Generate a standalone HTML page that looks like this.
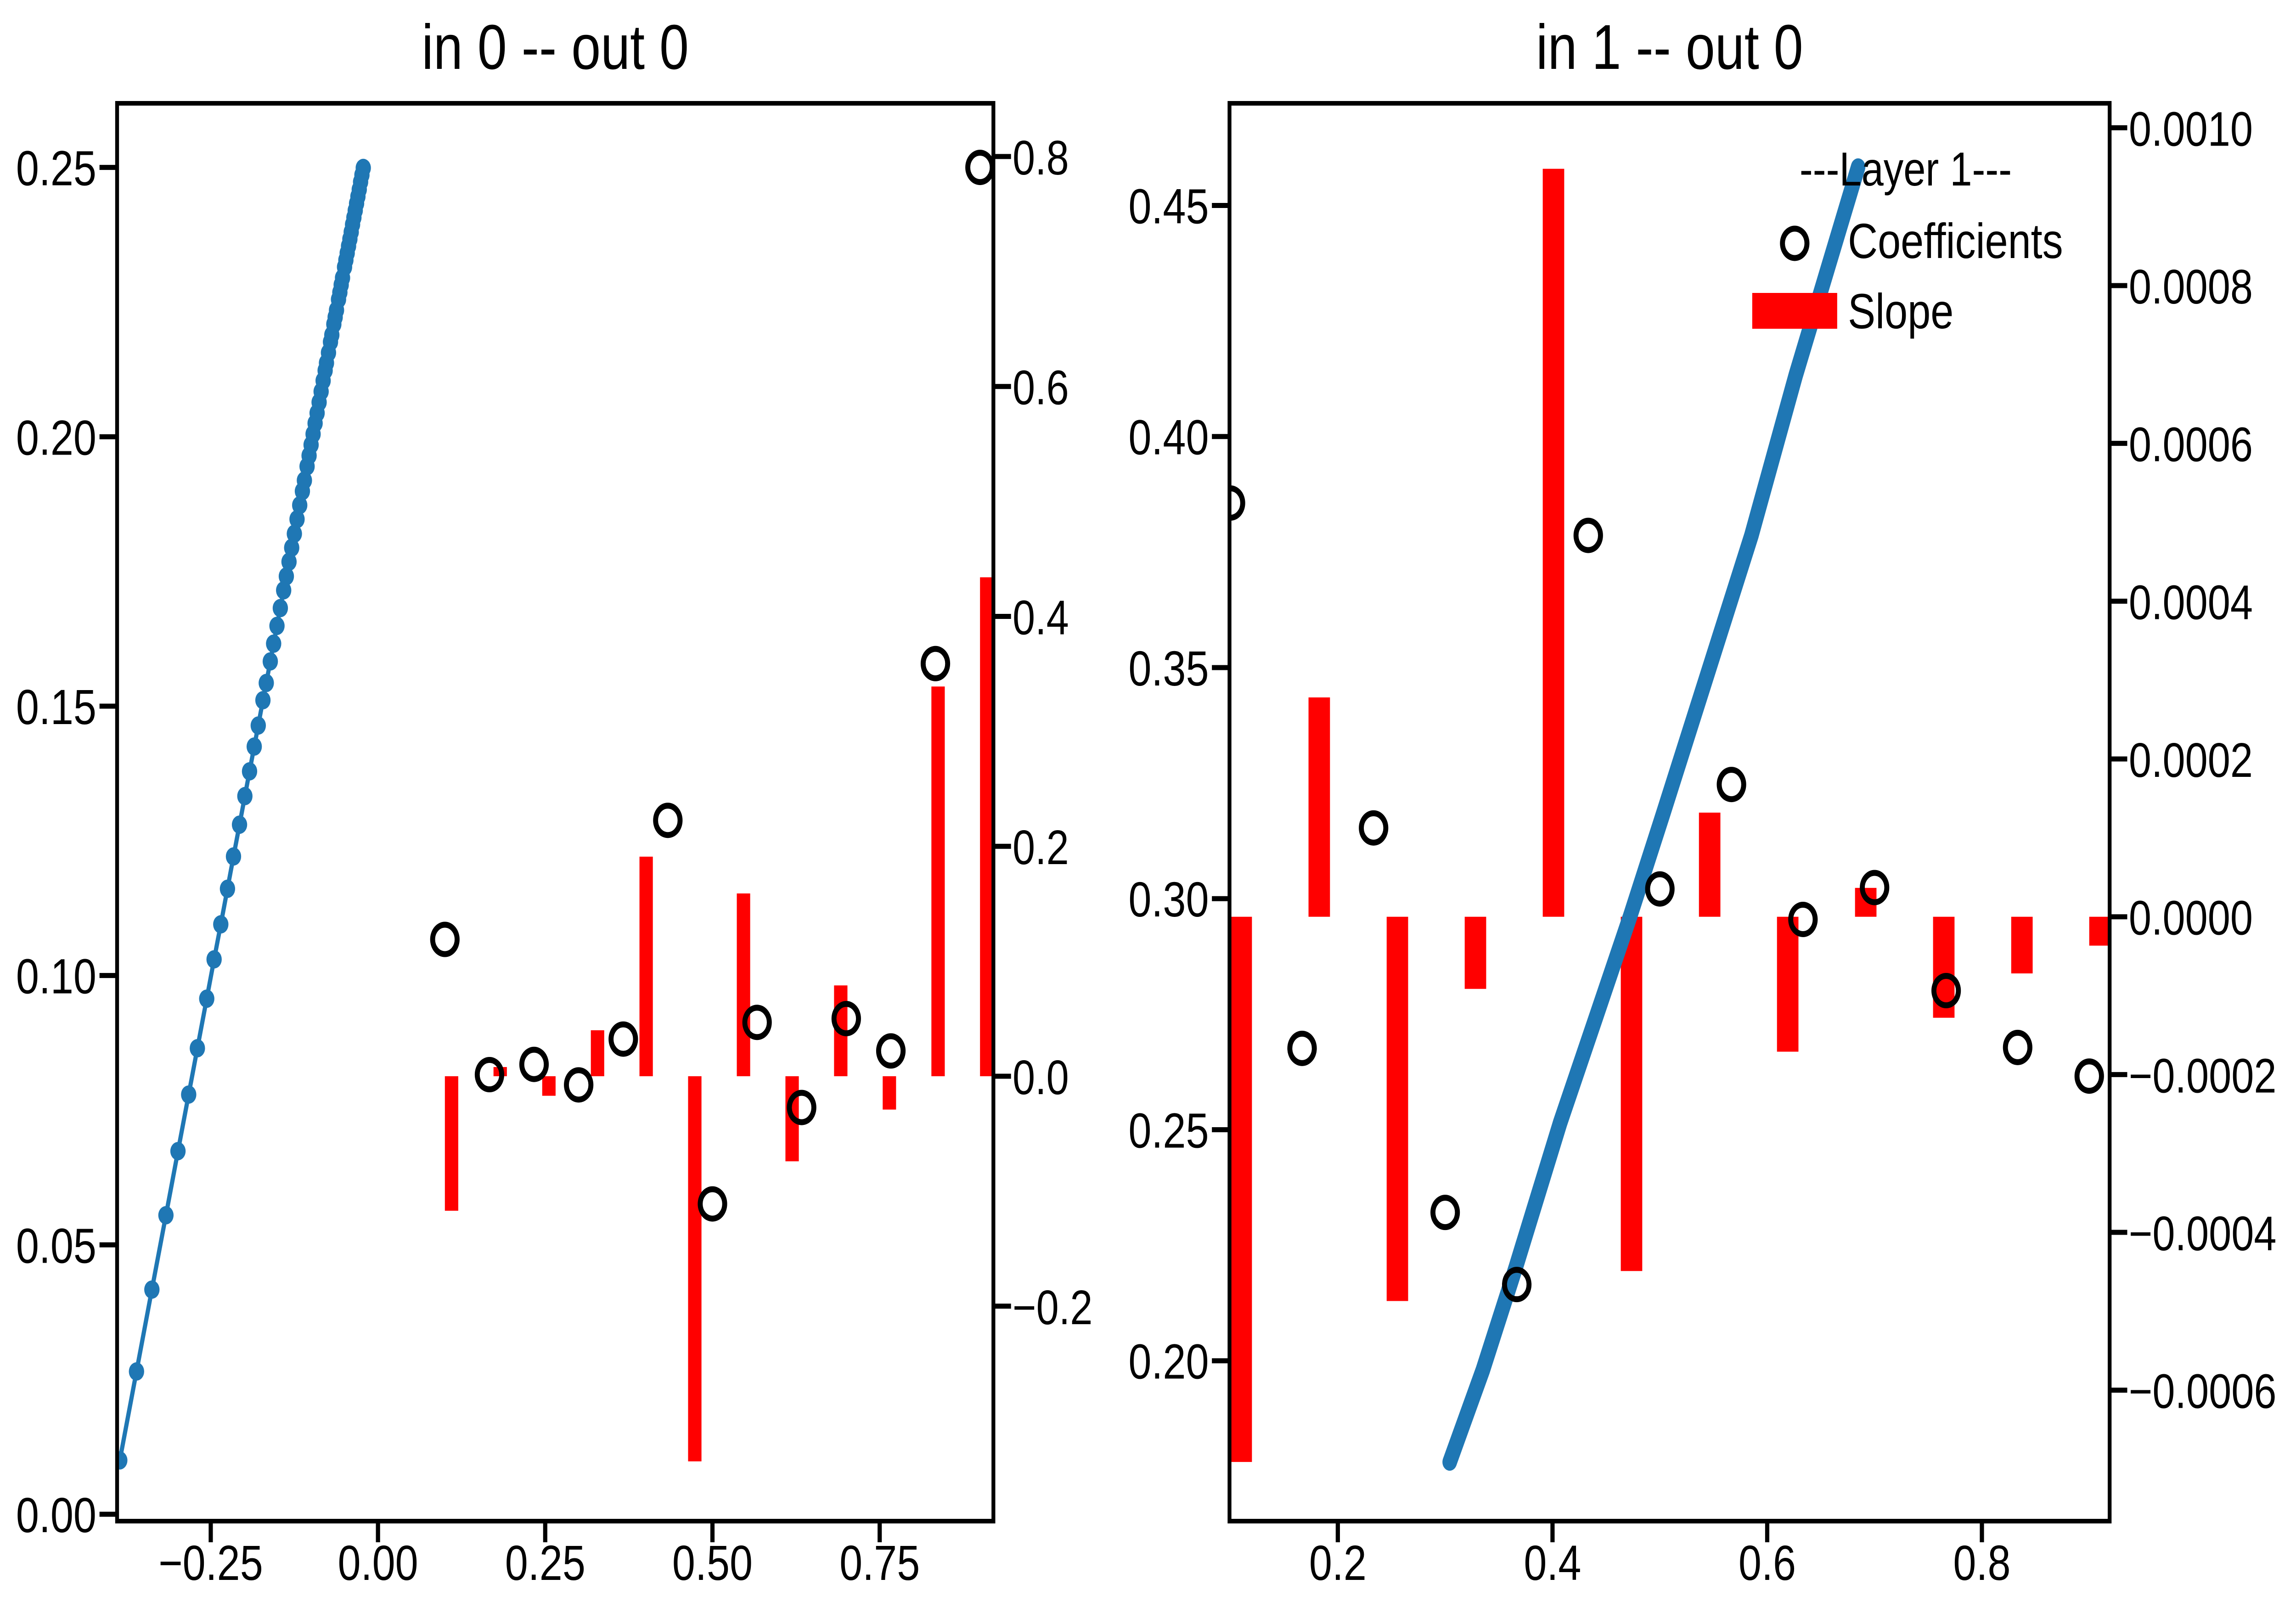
<!DOCTYPE html>
<html><head><meta charset="utf-8"><style>
html,body{margin:0;padding:0;background:#fff;width:100%;height:100%;overflow:hidden;}
svg{display:block;width:100vw;height:100vh;font-family:"Liberation Sans",Arial,sans-serif;}
</style></head><body>
<svg id="chart" viewBox="0 0 6000 3500" preserveAspectRatio="none" xmlns="http://www.w3.org/2000/svg">
<defs>
<clipPath id="c0"><rect x="306" y="225" width="2290" height="3088"/></clipPath>
<clipPath id="c1"><rect x="3213" y="225" width="2300" height="3088"/></clipPath>
</defs>
<g id="root"></g>
</svg>
<script>
// ---- Panel 0 data ----
const lineX0 = [-0.386,-0.361,-0.338,-0.317,-0.299,-0.283,-0.270,-0.256,-0.245,-0.235,-0.225,-0.216,-0.207,-0.199,-0.192,-0.185,-0.179,-0.172,-0.167,-0.161,-0.156,-0.151,-0.146,-0.141,-0.137,-0.133,-0.129,-0.125,-0.121,-0.117,-0.113,-0.110,-0.106,-0.103,-0.100,-0.097,-0.094,-0.091,-0.088,-0.085,-0.082,-0.079,-0.077,-0.074,-0.071,-0.069,-0.066,-0.064,-0.062,-0.059,-0.057,-0.055,-0.053,-0.050,-0.048,-0.046,-0.044,-0.042,-0.040,-0.038,-0.036,-0.034,-0.032,-0.030,-0.028,-0.026,-0.024,-0.022];
const lineY0 = [0.0100,0.0265,0.0417,0.0555,0.0674,0.0779,0.0865,0.0957,0.1030,0.1095,0.1161,0.1221,0.1280,0.1333,0.1379,0.1425,0.1464,0.1511,0.1543,0.1583,0.1616,0.1649,0.1682,0.1715,0.1741,0.1768,0.1794,0.1820,0.1847,0.1873,0.1899,0.1919,0.1945,0.1965,0.1985,0.2005,0.2025,0.2044,0.2064,0.2084,0.2104,0.2123,0.2137,0.2156,0.2176,0.2189,0.2209,0.2222,0.2235,0.2255,0.2268,0.2282,0.2295,0.2315,0.2328,0.2341,0.2354,0.2367,0.2380,0.2394,0.2407,0.2420,0.2433,0.2446,0.2459,0.2473,0.2486,0.2499];
const coefX0 = [0.1,0.1667,0.2333,0.3,0.3667,0.4333,0.5,0.5667,0.6333,0.7,0.7667,0.8333,0.9];
const coefY0 = [0.1067,0.0816,0.0835,0.0797,0.0882,0.1288,0.0576,0.0913,0.0755,0.0920,0.0860,0.1579,0.2500];
const slopeX0 = [0.1,0.1727,0.2455,0.3182,0.3909,0.4636,0.5364,0.6091,0.6818,0.7545,0.8273,0.9];
const slopeV0 = [-0.117,0.008,-0.017,0.040,0.191,-0.335,0.159,-0.074,0.079,-0.029,0.339,0.434];
const xTicks0 = [-0.25,0,0.25,0.5,0.75];
const xTickLabels0 = ["\u22120.25","0.00","0.25","0.50","0.75"];
const yTicks0 = [0,0.05,0.10,0.15,0.20,0.25];
const yTickLabels0 = ["0.00","0.05","0.10","0.15","0.20","0.25"];
const y2Ticks0 = [-0.2,0,0.2,0.4,0.6,0.8];
const y2TickLabels0 = ["\u22120.2","0.0","0.2","0.4","0.6","0.8"];

// ---- Panel 1 data ----
const lineX1 = [0.3042,0.3351,0.3659,0.4071,0.4413,0.4722,0.5031,0.5442,0.5853,0.6265,0.6847];
const lineY1 = [0.1781,0.1980,0.2203,0.2515,0.2749,0.2961,0.3184,0.3485,0.3786,0.4132,0.4583];
const coefX1 = [0.1,0.1667,0.2333,0.3,0.3667,0.4333,0.5,0.5667,0.6333,0.7,0.7667,0.8333,0.9];
const coefY1 = [0.3856,0.2676,0.3153,0.2321,0.2165,0.3786,0.3021,0.3247,0.2955,0.3024,0.2801,0.2678,0.2616];
const slopeX1 = [0.1,0.1727,0.2455,0.3182,0.3909,0.4636,0.5364,0.6091,0.6818,0.7545,0.8273,0.9];
const slopeV1 = [-0.000691,0.000278,-0.000487,-0.0000914,0.000948,-0.000449,0.000132,-0.000171,0.0000366,-0.000128,-0.0000718,-0.0000366];
const xTicks1 = [0.2,0.4,0.6,0.8];
const xTickLabels1 = ["0.2","0.4","0.6","0.8"];
const yTicks1 = [0.20,0.25,0.30,0.35,0.40,0.45];
const yTickLabels1 = ["0.20","0.25","0.30","0.35","0.40","0.45"];
const y2Ticks1 = [-0.0006,-0.0004,-0.0002,0,0.0002,0.0004,0.0006,0.0008,0.0010];
const y2TickLabels1 = ["\u22120.0006","\u22120.0004","\u22120.0002","0.0000","0.0002","0.0004","0.0006","0.0008","0.0010"];

const NS="http://www.w3.org/2000/svg";
const root=document.getElementById('root');
function mk(tag,attrs,parent,txt){const e=document.createElementNS(NS,tag);for(const k in attrs)e.setAttribute(k,attrs[k]);if(txt!==undefined)e.textContent=txt;(parent||root).appendChild(e);return e;}
function lin(d0,d1,p0,p1){return v=>p0+(v-d0)/(d1-d0)*(p1-p0);}

const panels=[
 {L:306,R:2596,T:225,B:3313,xd:[-0.390,0.920],yd:[-0.00128,0.2619],y2d:[-0.387,0.8463],barW:0.02,
  title:"in 0 -- out 0",lx:lineX0,ly:lineY0,cx:coefX0,cy:coefY0,sx:slopeX0,sv:slopeV0,
  xt:xTicks0,xtl:xTickLabels0,yt:yTicks0,ytl:yTickLabels0,y2t:y2Ticks0,y2tl:y2TickLabels0,thin:true,clip:"c0"},
 {L:3213,R:5513,T:225,B:3313,xd:[0.0991,0.919],yd:[0.1653,0.4721],y2d:[-0.000766,0.001031],barW:0.02,
  title:"in 1 -- out 0",lx:lineX1,ly:lineY1,cx:coefX1,cy:coefY1,sx:slopeX1,sv:slopeV1,
  xt:xTicks1,xtl:xTickLabels1,yt:yTicks1,ytl:yTickLabels1,y2t:y2Ticks1,y2tl:y2TickLabels1,thin:false,clip:"c1"}
];

panels.forEach((p,pi)=>{
 const g=mk('g',{});
 
 
 const X=lin(p.xd[0],p.xd[1],p.L,p.R), Y=lin(p.yd[0],p.yd[1],p.B,p.T), Y2=lin(p.y2d[0],p.y2d[1],p.B,p.T);
 const t=mk('text',{x:(p.L+p.R)/2,y:150,'text-anchor':'middle','font-size':138,fill:'#000'},g,p.title);
 
 
 const plot=mk('g',{'clip-path':'url(#'+p.clip+')'},g);
 
 
 p.sx.forEach((x,i)=>{
  const v=p.sv[i];const y0=Y2(0),y1=Y2(v);
  const r=mk('rect',{x:X(x),y:Math.min(y0,y1),width:X(x+p.barW)-X(x),height:Math.abs(y1-y0),fill:'#ff0000'},plot);
  
  
 });
 const pts=p.lx.map((x,i)=>X(x).toFixed(1)+','+Y(p.ly[i]).toFixed(1)).join(' ');
 const pl=mk('polyline',{points:pts,fill:'none',stroke:'#1f77b4','stroke-width':p.thin?11:38,'stroke-linecap':'round','stroke-linejoin':'round'},plot);
 
 
 if(p.thin){
  p.lx.forEach((x,i)=>{
   const c=mk('circle',{cx:X(x),cy:Y(p.ly[i]),r:20,fill:'#1f77b4'},plot);
   
   
  });
 }
 p.cx.forEach((x,i)=>{
  const c=mk('circle',{cx:X(x),cy:Y(p.cy[i]),r:32,fill:'none',stroke:'#000','stroke-width':13},plot);
  
  
 });
 const f=mk('rect',{x:p.L,y:p.T,width:p.R-p.L,height:p.B-p.T,fill:'none',stroke:'#000','stroke-width':10},g);
 
 
 p.xt.forEach((v,i)=>{
  const x=X(v);
  const l=mk('line',{x1:x,x2:x,y1:p.B,y2:p.B+46,stroke:'#000','stroke-width':11},g);
  
  
  const tx=mk('text',{x:x,y:3441,'text-anchor':'middle','font-size':108,fill:'#000'},g,p.xtl[i]);
  
  
 });
 p.yt.forEach((v,i)=>{
  const y=Y(v);
  const l=mk('line',{x1:p.L-46,x2:p.L,y1:y,y2:y,stroke:'#000','stroke-width':11},g);
  
  
  const tx=mk('text',{x:p.L-54,y:y+39,'text-anchor':'end','font-size':108,fill:'#000'},g,p.ytl[i]);
  
  
 });
 p.y2t.forEach((v,i)=>{
  const y=Y2(v);
  const l=mk('line',{x1:p.R,x2:p.R+46,y1:y,y2:y,stroke:'#000','stroke-width':11},g);
  
  
  const tx=mk('text',{x:p.R+50,y:y+39,'text-anchor':'start','font-size':106,fill:'#000'},g,p.y2tl[i]);
  
  
 });
});

const lg=mk('g',{});


const lt=mk('text',{x:4980,y:404,'text-anchor':'middle','font-size':104,fill:'#000'},lg,'---Layer 1---');


const lc=mk('circle',{cx:4690,cy:530,r:32,fill:'none',stroke:'#000','stroke-width':13},lg);


const lct=mk('text',{x:4829,y:562,'font-size':108,fill:'#000'},lg,'Coefficients');


const lr=mk('rect',{x:4579,y:638,width:222,height:78,fill:'#ff0000'},lg);


const lrt=mk('text',{x:4829,y:715,'font-size':108,fill:'#000'},lg,'Slope');


</script>
</body></html>
